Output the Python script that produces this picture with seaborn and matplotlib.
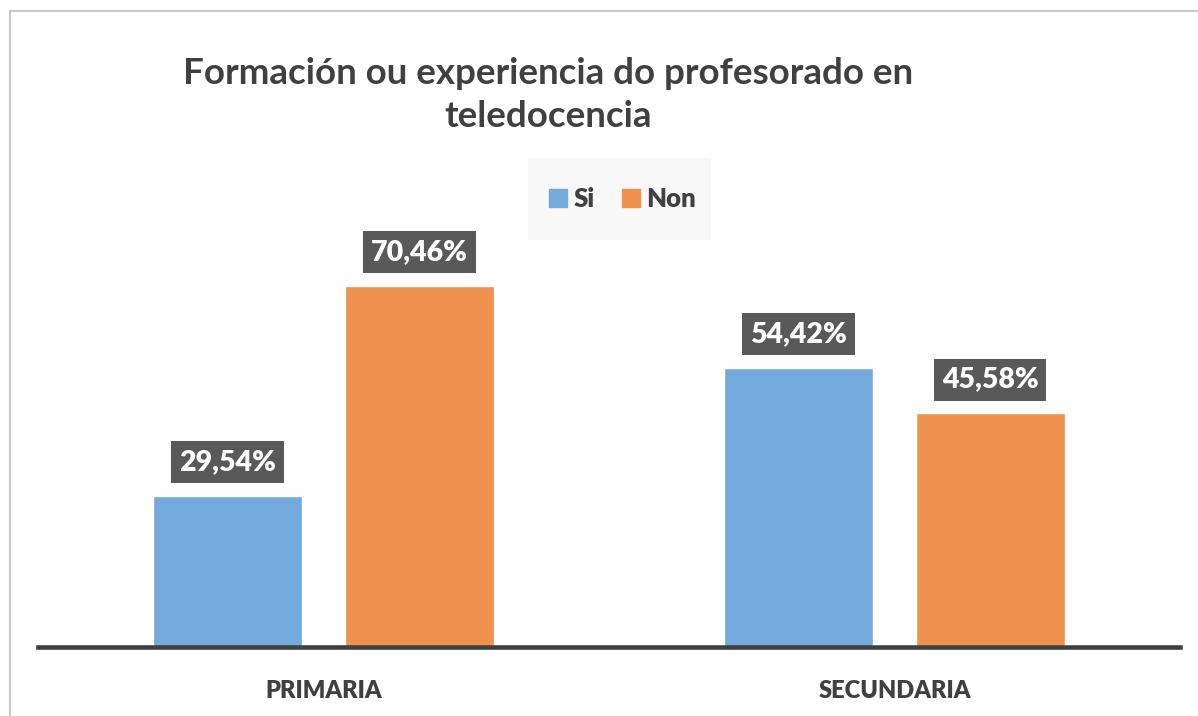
import matplotlib
matplotlib.use("Agg")
import matplotlib.pyplot as plt
import seaborn as sns
import pandas as pd
from matplotlib.patches import Rectangle
from matplotlib.lines import Line2D

categories = ["PRIMARIA", "SECUNDARIA"]
series = ["Si", "Non"]
si_values = [29.54, 54.42]
non_values = [70.46, 45.58]
title = "Formación ou experiencia do profesorado en\nteledocencia"

colors = {"Si": "#73A9DB", "Non": "#EF914F"}

df = pd.DataFrame({
    "categoria": categories * 2,
    "serie": ["Si"] * len(categories) + ["Non"] * len(categories),
    "valor": si_values + non_values,
})

sns.set_theme(style="white")
plt.rcParams["font.family"] = ["Lato", "DejaVu Sans"]

fig = plt.figure(figsize=(11.98, 7.16), dpi=100)
fig.patch.set_facecolor("white")
ax = fig.add_axes([38/1198, 69/716, 1142/1198, 410/716])

sns.barplot(data=df, x="categoria", y="valor", hue="serie", order=categories,
            hue_order=series, palette=colors, width=0.67, gap=0.22,
            saturation=1, ax=ax, legend=False)

ax.set_ylim(0, 80)
ax.set_xlim(-0.5, 1.5)
for s in ["top", "right", "left"]:
    ax.spines[s].set_visible(False)
ax.spines["bottom"].set_color("#404040")
ax.spines["bottom"].set_linewidth(3.3)
ax.set_yticks([])
ax.set_xlabel("")
ax.set_ylabel("")
ax.set_xticks(range(len(categories)))
ax.set_xticklabels(categories, fontweight="heavy", fontsize=17, color="#404040")
ax.tick_params(axis="x", length=0, pad=24)
ax.set_facecolor("white")

for cont, vals in zip(ax.containers, [si_values, non_values]):
    labels = [f"{v:.2f}%".replace(".", ",") for v in vals]
    ax.bar_label(cont, labels=labels, padding=15, color="white", fontsize=20.5,
                 fontweight="heavy",
                 bbox=dict(boxstyle="square,pad=0.28", fc="#595959", ec="none"))

fig.text(548/1198, 1 - 95/716, title, ha="center", va="center", fontsize=26.5,
         fontweight="bold", color="#404040", linespacing=1.4)

# legend background
fig.patches.append(Rectangle((528/1198, 1 - 240/716), 183/1198, 82/716,
                             transform=fig.transFigure, fc="#F8F8F8", ec="none",
                             zorder=0))
handles = [Line2D([], [], marker="s", linestyle="none", markersize=13,
                  markerfacecolor=colors[s], markeredgecolor=colors[s]) for s in series]
leg = fig.legend(handles, series, loc="center", bbox_to_anchor=(622/1198, 1 - 199/716),
                 ncol=2, frameon=False, fontsize=18.5, handletextpad=0.2,
                 columnspacing=1.0, handlelength=0.8)
for t in leg.get_texts():
    t.set_fontweight("heavy")
    t.set_color("#404040")

# outer border (top and left)
fig.add_artist(Line2D([10/1198, 1], [1 - 11/716, 1 - 11/716], transform=fig.transFigure,
                      color="#C8C8C8", lw=1.5))
fig.add_artist(Line2D([10/1198, 10/1198], [0, 1 - 11/716], transform=fig.transFigure,
                      color="#C8C8C8", lw=1.5))

fig.savefig("out.png", dpi=100)
